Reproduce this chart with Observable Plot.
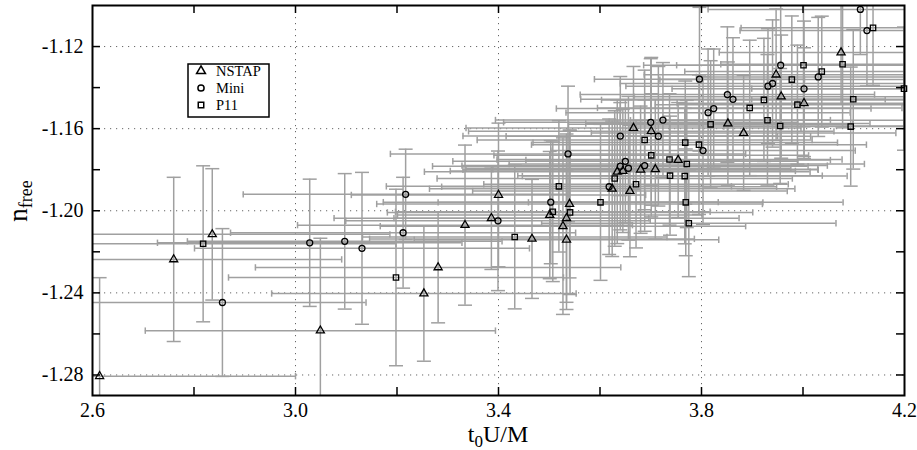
<!DOCTYPE html>
<html>
<head>
<meta charset="utf-8">
<script src="https://cdn.jsdelivr.net/npm/d3@7"></script>
<script src="https://cdn.jsdelivr.net/npm/@observablehq/plot@0.6"></script>
<style>
  body { margin: 0; background: #fff; }
  #chart svg { display: block; }
</style>
</head>
<body>
<div id="chart"></div>
<script>
// Each row: [t0U/M, n_free, horizontal error, vertical error]
const nstap = [
  [2.614, -1.2806, 0.386, 0.048],
  [2.760, -1.2237, 0.331, 0.040],
  [2.836, -1.2115, 0.350, 0.032],
  [3.049, -1.2584, 0.345, 0.045],
  [3.253, -1.2403, 0.300, 0.033],
  [3.281, -1.2276, 0.360, 0.027],
  [3.334, -1.2070, 0.330, 0.039],
  [3.386, -1.2036, 0.310, 0.025],
  [3.400, -1.1923, 0.290, 0.035],
  [3.466, -1.2137, 0.320, 0.029],
  [3.540, -1.1967, 0.380, 0.036],
  [3.501, -1.2021, 0.300, 0.031],
  [3.534, -1.2036, 0.340, 0.041],
  [3.527, -1.2075, 0.360, 0.043],
  [3.534, -1.2141, 0.300, 0.034],
  [3.666, -1.1597, 0.330, 0.030],
  [3.701, -1.1613, 0.360, 0.036],
  [3.754, -1.1753, 0.300, 0.028],
  [3.680, -1.1800, 0.350, 0.031],
  [3.709, -1.1798, 0.320, 0.034],
  [3.634, -1.1810, 0.380, 0.035],
  [3.645, -1.1806, 0.340, 0.030],
  [3.624, -1.1893, 0.360, 0.033],
  [3.659, -1.1904, 0.310, 0.032],
  [3.852, -1.1575, 0.280, 0.030],
  [3.883, -1.1621, 0.300, 0.028],
  [3.947, -1.1337, 0.260, 0.032],
  [3.957, -1.1444, 0.290, 0.030],
  [4.002, -1.1476, 0.250, 0.027],
  [4.075, -1.1229, 0.240, 0.025]
];

const mini = [
  [2.856, -1.2447, 0.283, 0.036],
  [3.028, -1.2156, 0.300, 0.031],
  [3.097, -1.2149, 0.310, 0.033],
  [3.131, -1.2183, 0.330, 0.037],
  [3.217, -1.1920, 0.320, 0.022],
  [3.212, -1.2107, 0.340, 0.027],
  [3.399, -1.2049, 0.300, 0.034],
  [3.503, -1.1958, 0.330, 0.030],
  [3.537, -1.1723, 0.350, 0.033],
  [3.640, -1.1636, 0.310, 0.029],
  [3.700, -1.1569, 0.290, 0.031],
  [3.724, -1.1558, 0.330, 0.028],
  [3.715, -1.1637, 0.300, 0.034],
  [3.650, -1.1759, 0.340, 0.030],
  [3.688, -1.1780, 0.360, 0.032],
  [3.656, -1.1793, 0.320, 0.035],
  [3.640, -1.1783, 0.370, 0.031],
  [3.618, -1.1883, 0.330, 0.033],
  [3.803, -1.1707, 0.300, 0.036],
  [3.813, -1.1522, 0.280, 0.031],
  [3.824, -1.1502, 0.310, 0.029],
  [3.851, -1.1434, 0.290, 0.033],
  [3.862, -1.1457, 0.300, 0.030],
  [3.796, -1.1359, 0.207, 0.035],
  [3.931, -1.1393, 0.280, 0.028],
  [3.940, -1.1380, 0.300, 0.031],
  [3.956, -1.1291, 0.270, 0.030],
  [4.002, -1.1406, 0.260, 0.033],
  [4.030, -1.1348, 0.240, 0.029],
  [4.113, -1.1019, 0.300, 0.022],
  [4.126, -1.1122, 0.250, 0.027]
];

const p11 = [
  [2.818, -1.2161, 0.380, 0.038],
  [3.198, -1.2325, 0.330, 0.043],
  [3.432, -1.2128, 0.300, 0.035],
  [3.519, -1.1881, 0.340, 0.032],
  [3.507, -1.2005, 0.310, 0.034],
  [3.541, -1.2008, 0.360, 0.040],
  [3.601, -1.1959, 0.320, 0.038],
  [3.629, -1.1843, 0.350, 0.033],
  [3.671, -1.1871, 0.300, 0.031],
  [3.688, -1.1655, 0.330, 0.034],
  [3.701, -1.1730, 0.310, 0.030],
  [3.737, -1.1750, 0.340, 0.032],
  [3.738, -1.1829, 0.300, 0.029],
  [3.767, -1.1831, 0.320, 0.033],
  [3.771, -1.1772, 0.350, 0.031],
  [3.768, -1.1668, 0.300, 0.030],
  [3.795, -1.1678, 0.330, 0.034],
  [3.769, -1.1959, 0.310, 0.026],
  [3.775, -1.2061, 0.290, 0.026],
  [3.818, -1.1579, 0.280, 0.031],
  [3.895, -1.1499, 0.300, 0.033],
  [3.923, -1.1460, 0.320, 0.030],
  [3.930, -1.1559, 0.270, 0.032],
  [3.955, -1.1587, 0.290, 0.028],
  [3.978, -1.1361, 0.260, 0.031],
  [3.989, -1.1483, 0.280, 0.029],
  [4.001, -1.1291, 0.250, 0.030],
  [4.037, -1.1322, 0.270, 0.027],
  [4.078, -1.1286, 0.240, 0.031],
  [4.094, -1.1590, 0.250, 0.029],
  [4.099, -1.1457, 0.200, 0.034],
  [4.138, -1.1109, 0.260, 0.028],
  [4.199, -1.1405, 0.300, 0.030]
];

const seriesNames = ["NSTAP", "Mini", "P11"];
const seriesSymbols = ["triangle", "circle", "square"];

const xTickValues = [2.6, 3.0, 3.4, 3.8, 4.2];
const xGridValues = [3.0, 3.4, 3.8];
const xMinorValues = [2.8, 3.0, 3.2, 3.4, 3.6, 3.8, 4.0];
const yTickValues = [-1.28, -1.24, -1.20, -1.16, -1.12];
const yMinorValues = [-1.28, -1.26, -1.24, -1.22, -1.20, -1.18, -1.16, -1.14, -1.12];

const W = 917, H = 450;
const margin = {left: 92, right: 13, top: 5, bottom: 55};
const innerW = W - margin.left - margin.right;
const innerH = H - margin.top - margin.bottom;
const serif = "Liberation Serif, DejaVu Serif, serif";

const rows = [nstap, mini, p11].flatMap((arr, i) =>
  arr.map(([x, y, xe, ye]) => ({series: seriesNames[i], x, y, xe, ye}))
);

// Short cap strokes drawn as custom dot symbols
const hCap = {draw(ctx, size) { const r = Math.sqrt(size / Math.PI); ctx.moveTo(-r, 0); ctx.lineTo(r, 0); }};
const vCap = {draw(ctx, size) { const r = Math.sqrt(size / Math.PI); ctx.moveTo(0, -r); ctx.lineTo(0, r); }};

const barColor = "#a0a0a0";

const chart = Plot.plot({
  width: W,
  height: H,
  marginLeft: margin.left,
  marginRight: margin.right,
  marginTop: margin.top,
  marginBottom: margin.bottom,
  x: {domain: [2.6, 4.2]},
  y: {domain: [-1.29, -1.10]},
  symbol: {domain: seriesNames, range: seriesSymbols},
  style: {fontFamily: serif, fontSize: "20px", color: "black", background: "white"},
  marks: [
    Plot.gridX(xGridValues, {stroke: "#666", strokeOpacity: 1, strokeWidth: 1, strokeDasharray: "1.2,4.8"}),
    Plot.gridY(yTickValues, {stroke: "#666", strokeOpacity: 1, strokeWidth: 1, strokeDasharray: "1.2,4.8"}),
    // error bars
    Plot.ruleY(rows, {y: "y", x1: d => d.x - d.xe, x2: d => d.x + d.xe, stroke: barColor, strokeWidth: 1.5, clip: true}),
    Plot.ruleX(rows, {x: "x", y1: d => d.y - d.ye, y2: d => d.y + d.ye, stroke: barColor, strokeWidth: 1.5, clip: true}),
    Plot.dot(rows, {x: d => d.x - d.xe, y: "y", symbol: () => vCap, r: 3.2, stroke: barColor, strokeWidth: 1.5, fill: "none", clip: true}),
    Plot.dot(rows, {x: d => d.x + d.xe, y: "y", symbol: () => vCap, r: 3.2, stroke: barColor, strokeWidth: 1.5, fill: "none", clip: true}),
    Plot.dot(rows, {x: "x", y: d => d.y - d.ye, symbol: () => hCap, r: 7, stroke: barColor, strokeWidth: 1.5, fill: "none", clip: true}),
    Plot.dot(rows, {x: "x", y: d => d.y + d.ye, symbol: () => hCap, r: 7, stroke: barColor, strokeWidth: 1.5, fill: "none", clip: true}),
    // data markers
    Plot.dot(rows, {x: "x", y: "y", symbol: "series", r: 3, stroke: "black", strokeWidth: 1.3, fill: "none"}),
    // inward ticks on all four sides
    Plot.tickX(xMinorValues, {x: d => d, insetTop: innerH - 8, stroke: "black", strokeWidth: 1.5}),
    Plot.tickX(xMinorValues, {x: d => d, insetBottom: innerH - 8, stroke: "black", strokeWidth: 1.5}),
    Plot.tickY(yMinorValues, {y: d => d, insetRight: innerW - 8, stroke: "black", strokeWidth: 1.5}),
    Plot.tickY(yMinorValues, {y: d => d, insetLeft: innerW - 8, stroke: "black", strokeWidth: 1.5}),
    Plot.frame({stroke: "black", strokeWidth: 2}),
    Plot.axisX(xTickValues, {tickSize: 0, tickPadding: 7, tickFormat: d => d.toFixed(1), label: null, fontSize: 20, fontFamily: serif}),
    Plot.axisY(yTickValues, {tickSize: 0, tickPadding: 9, tickFormat: d => d.toFixed(2), label: null, fontSize: 20, fontFamily: serif})
  ]
});

document.getElementById("chart").appendChild(chart);

const svg = d3.select(chart);

// y-axis title: n with subscript "free"
const yl = svg.append("text")
  .attr("transform", "translate(27,201) rotate(-90)")
  .attr("text-anchor", "middle")
  .style("font-family", serif)
  .style("font-size", "27px")
  .attr("fill", "black");
yl.append("tspan").text("n");
yl.append("tspan").attr("dy", 5).style("font-size", "18px").text("free");

// x-axis title: t with subscript 0, then U/M
const xl = svg.append("text")
  .attr("x", margin.left + innerW / 2)
  .attr("y", 442)
  .attr("text-anchor", "middle")
  .style("font-family", serif)
  .style("font-size", "24px")
  .attr("fill", "black");
xl.append("tspan").text("t");
xl.append("tspan").attr("dy", 5).style("font-size", "17px").text("0");
xl.append("tspan").attr("dy", -5).text("U/M");

// legend box
const lg = svg.append("g").attr("transform", "translate(188,64)");
lg.append("rect").attr("width", 81).attr("height", 53).attr("fill", "white").attr("stroke", "black").attr("stroke-width", 1.5);
const symbolTypes = {triangle: d3.symbolTriangle, circle: d3.symbolCircle, square: d3.symbolSquare};
seriesNames.forEach((name, i) => {
  const cy = 7 + i * 17;
  lg.append("path")
    .attr("transform", `translate(13,${cy})`)
    .attr("d", d3.symbol(symbolTypes[seriesSymbols[i]], i === 0 ? 34 : 30)())
    .attr("fill", "white").attr("stroke", "black").attr("stroke-width", 1.5);
  lg.append("text")
    .attr("x", 28).attr("y", cy + 5)
    .attr("text-anchor", "start")
    .style("font-family", serif).style("font-size", "14.5px")
    .attr("fill", "black")
    .text(name);
});
</script>
</body>
</html>
